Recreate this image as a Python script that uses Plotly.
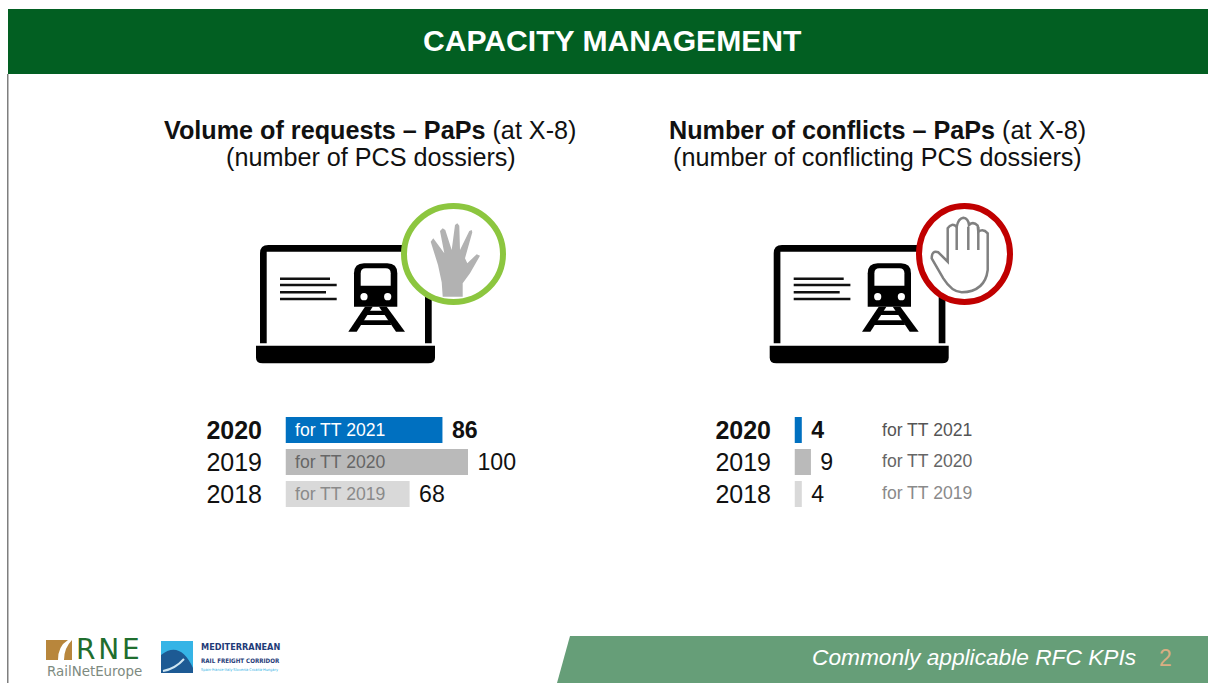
import re
import plotly.graph_objects as go

# data
years = ["2020", "2019", "2018"]
year_labels = ["<b>2020</b>", "2019", "2018"]
requests = [86, 100, 68]
conflicts = [4, 9, 4]
timetables = ["for TT 2021", "for TT 2020", "for TT 2019"]

W, H = 1208, 683
FONT = "Liberation Sans"
BAR_COLORS = ["#0070c0", "#bababa", "#d9d9d9"]
GREEN = "#025f22"
rows = list(range(len(years)))


def dom_x(a, b):
    return [a / W, b / W]


def dom_y(top, bottom):
    return [1 - bottom / H, 1 - top / H]


def zoomed(path, ox, oy):
    # icons were measured on 3x crops, put them back to page pixels
    parts = re.split(r"([MLQZ])", path)
    out = []
    for p in parts:
        nums = re.findall(r"[\d.]+", p)
        if nums:
            vals = [float(n) for n in nums]
            pts = []
            for i in range(0, len(vals), 2):
                pts.append(f"{vals[i] / 3 + ox:.1f},{vals[i + 1] / 3 + oy:.1f}")
            out.append(" ".join(pts))
        else:
            out.append(p)
    return "".join(out)


def value_labels(values):
    # nbsp keeps the gap the slide has between bar end and number
    return [f"\u00a0<b>{v}</b>" if i == 0 else f"\u00a0{v}" for i, v in enumerate(values)]


fig = go.Figure()

fig.add_trace(go.Bar(
    x=requests, y=rows, orientation="h", marker=dict(color=BAR_COLORS, line_width=0),
    text=value_labels(requests), textposition="outside", cliponaxis=False,
    textfont=dict(size=25, color="#111111", family=FONT),
    width=0.81, xaxis="x", yaxis="y", showlegend=False,
))
fig.add_trace(go.Bar(
    x=conflicts, y=rows, orientation="h", marker=dict(color=BAR_COLORS, line_width=0),
    text=value_labels(conflicts), textposition="outside", cliponaxis=False,
    textfont=dict(size=25, color="#111111", family=FONT),
    width=0.81, xaxis="x2", yaxis="y2", showlegend=False,
))
# empty trace so the page-pixel overlay axes exist
fig.add_trace(go.Scatter(x=[None], y=[None], xaxis="x3", yaxis="y3", showlegend=False, hoverinfo="skip"))

shapes = []


def rect(x0, y0, x1, y1, color):
    shapes.append(dict(type="rect", xref="x3", yref="y3", x0=x0, y0=y0, x1=x1, y1=y1,
                       fillcolor=color, line_width=0, layer="above"))


def path(d, fill="rgba(0,0,0,0)", line=None, lw=0):
    shapes.append(dict(type="path", xref="x3", yref="y3", path=d, fillcolor=fill,
                       line=dict(color=line or "rgba(0,0,0,0)", width=lw), layer="above"))


def circle(x0, y0, x1, y1, fill, line=None, lw=0):
    shapes.append(dict(type="circle", xref="x3", yref="y3", x0=x0, y0=y0, x1=x1, y1=y1,
                       fillcolor=fill, line=dict(color=line or "rgba(0,0,0,0)", width=lw), layer="above"))


def label(x, y, text, size, color="#111111", anchor="center", italic=False, family=FONT):
    fig.add_annotation(xref="x3", yref="y3", x=x, y=y, text=text, showarrow=False,
                       xanchor=anchor, yanchor="middle", borderpad=0,
                       font=dict(size=size, color=color, family=family,
                                 style="italic" if italic else "normal"))


def laptop(ox, oy):
    # ox, oy = origin of the 3x crop the icon was measured on
    path(zoomed("M60,445 L60,175 Q60,150 85,150 L550,150 Q575,150 575,175 L575,445 L555,445 "
                "L555,170 L80,170 L80,445 Z", ox, oy), fill="#000000")
    path(zoomed("M48,452 L585,452 L585,488 Q585,505 565,505 L68,505 Q48,505 48,488 Z", ox, oy), fill="#000000")
    for x1, y in [(270, 251), (290, 270), (258, 292), (290, 312)]:
        path(zoomed(f"M120,{y} L{x1},{y}", ox, oy), line="#111111", lw=2.4)
    # train
    path(zoomed("M342,235 Q342,205 372,205 L442,205 Q472,205 472,235 L472,335 L342,335 Z", ox, oy), fill="#000000")
    path(zoomed("M362,235 Q362,220 377,220 L437,220 Q452,220 452,235 L452,272 L362,272 Z", ox, oy), fill="#ffffff")
    for cx in [372, 443]:
        circle(cx / 3 + ox - 3.6, 305 / 3 + oy - 3.6, cx / 3 + ox + 3.6, 305 / 3 + oy + 3.6, "#ffffff")
    path(zoomed("M375,335 L398,335 L350,410 L325,410 Z", ox, oy), fill="#000000")
    path(zoomed("M440,335 L417,335 L468,410 L495,410 Z", ox, oy), fill="#000000")
    path(zoomed("M385,347 L430,347 L436,360 L377,360 Z", ox, oy), fill="#000000")
    path(zoomed("M368,376 L448,376 L454,390 L360,390 Z", ox, oy), fill="#000000")


# header, side line and footer
rect(8, 9, W, 74, GREEN)
rect(7, 74, 8.5, H, "#7f7f7f")
path("M570,636 L1208,636 L1208,683 L557,683 Z", fill="#669e78")
label(612.5, 40, "<b>CAPACITY MANAGEMENT</b>", 30.1, "#ffffff")
label(1137, 657, "Commonly applicable RFC KPIs", 22.7, "#ffffff", anchor="right", italic=True)
label(1165, 658, "2", 23, "#d9ae83")

# column headings
label(370, 129.5, "<b>Volume of requests – PaPs</b> (at X-8)", 25.2)
label(370.5, 156.5, "(number of PCS dossiers)", 25.2)
label(877, 129.5, "<b>Number of conflicts – PaPs</b> (at X-8)", 25.2)
label(877.5, 156.5, "(number of conflicting PCS dossiers)", 25.2)

# left icon
laptop(240, 195)
circle(404, 206, 503, 302, "#ffffff", "#8cc63f", 6)
path(zoomed("M608,305 L605,262 L594,210 L572,140 L580,130 L613,175 L600,108 L608,100 L616,105 L635,165 "
            "L645,90 L652,85 L658,92 L660,165 L688,108 L695,105 L697,112 L675,190 L682,205 L710,178 "
            "L720,182 L690,235 L668,265 L668,305 Z", 240, 195), fill="#b2b2b2")

# right icon
laptop(753.7, 195)
circle(919, 206, 1010, 302, "#ffffff", "#c00000", 6)
path(zoomed("M578,200 L578,100 Q590,82 605,95 Q610,70 625,68 Q640,70 642,90 Q655,78 668,92 L670,110 "
            "Q685,100 698,115 L698,225 Q690,290 620,292 Q590,290 565,250 L530,190 Q530,165 550,172 Z",
            755, 195), line="#808080", lw=2.5, fill="#ffffff")
for sx in [605, 640, 670]:
    path(zoomed(f"M{sx},95 L{sx},165", 755, 195), line="#808080", lw=2.5)

# timetable labels, inside the bars on the left and beside them on the right
left_colors = ["#ffffff", "#666666", "#8a8a8a"]
right_colors = ["#555555", "#666666", "#8a8a8a"]
for i, tt in enumerate(timetables):
    fig.add_annotation(xref="x", yref="y", x=0, y=rows[i], text=tt, showarrow=False, xanchor="left",
                       xshift=7, font=dict(size=17.6, color=left_colors[i], family=FONT))
    fig.add_annotation(xref="x2", yref="y2", x=0, y=rows[i], text=tt, showarrow=False, xanchor="left",
                       xshift=85, yshift=1 if i else 0, font=dict(size=17.6, color=right_colors[i], family=FONT))

# RNE logo
path("M46,640 L72,640 L72,660 L46,660 Z", fill="#b8863c")
path("M58,660 Q58,646 68,640 L72,640 Q64,648 64,660 Z", fill="#ffffff")
label(75, 649, "R\u200aN\u200aE", 28, "#1f6e2e", anchor="left", family="DejaVu Sans")
label(94, 671, "RailNetEurope", 13.4, "#7d8a80", family="DejaVu Sans")

# Mediterranean logo
rect(161, 641, 193, 673, "#1d5a94")
path("M161,641 L193,641 L193,668 Q180,640 161,655 Z", fill="#35b4e6")
path("M163,671 Q175,669 184,659", line="#cfe6f2", lw=2)
NARROW = "DejaVu Sans Condensed"
label(200, 647, "<b>MEDITERRANEAN</b>", 9.1, "#1f3c78", anchor="left", family=NARROW)
label(200, 660, "<b>RAIL FREIGHT CORRIDOR</b>", 6.2, "#1f3c78", anchor="left", family=NARROW)
label(200, 669, "Spain·France·Italy·Slovenia·Croatia·Hungary", 3.9, "#35b4e6", anchor="left", family=NARROW)

y_common = dict(range=[2.5, -0.5], tickmode="array", tickvals=rows, ticktext=year_labels, showgrid=False,
                zeroline=False, showline=False, ticks="outside", ticklen=17.5, tickcolor="rgba(0,0,0,0)",
                tickfont=dict(size=25, color="#111111", family=FONT), fixedrange=True)
x_common = dict(range=[0, 100], visible=False, showgrid=False, zeroline=False, fixedrange=True)

fig.update_layout(
    width=W, height=H, margin=dict(l=0, r=0, t=0, b=0, pad=0),
    paper_bgcolor="#ffffff", plot_bgcolor="rgba(0,0,0,0)",
    font=dict(family=FONT), showlegend=False, shapes=shapes,
    xaxis=dict(domain=dom_x(285.5, 468), **x_common),
    yaxis=dict(domain=dom_y(414, 510), anchor="x", **y_common),
    xaxis2=dict(domain=dom_x(794.5, 977), **x_common),
    yaxis2=dict(domain=dom_y(414, 510), anchor="x2", **y_common),
    xaxis3=dict(domain=[0, 1], range=[0, W], visible=False, fixedrange=True),
    yaxis3=dict(domain=[0, 1], range=[H, 0], visible=False, anchor="x3", fixedrange=True),
)

fig.write_html("out.html", config=dict(displayModeBar=False),
               post_script="document.body.style.margin='0';document.body.style.overflow='hidden';")
